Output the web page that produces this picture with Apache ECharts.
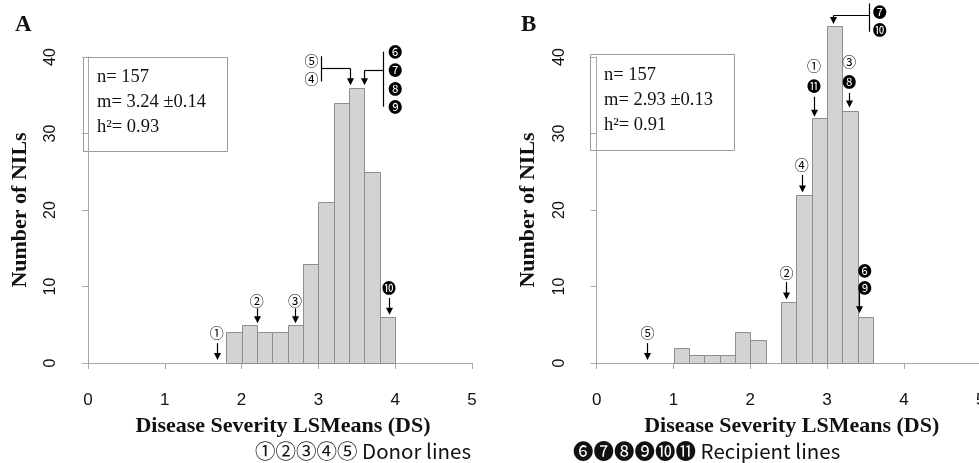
<!DOCTYPE html>
<html><head><meta charset="utf-8">
<script src="https://cdn.jsdelivr.net/npm/echarts@6/dist/echarts.min.js"></script>
<style>html,body{margin:0;padding:0;background:#fff}#c{width:979px;height:463px}</style>
</head><body><div id="c"></div>
<script>
// ---- data ----
const BIN_WIDTH = 0.2;
const binStartA = [1.8, 2.0, 2.2, 2.4, 2.6, 2.8, 3.0, 3.2, 3.4, 3.6, 3.8];
const countsA   = [4, 5, 4, 4, 5, 13, 21, 34, 36, 25, 6];
const binStartB = [1.0, 1.2, 1.4, 1.6, 1.8, 2.0, 2.2, 2.4, 2.6, 2.8, 3.0, 3.2, 3.4];
const countsB   = [2, 1, 1, 1, 4, 3, 0, 8, 22, 32, 44, 33, 6];
const xTicks = [0, 1, 2, 3, 4, 5];
const yTicks = [0, 10, 20, 30, 40];
const statsA = ['n= 157', 'm= 3.24 \u00b10.14', 'h\u00b2= 0.93'];
const statsB = ['n= 157', 'm= 2.93 \u00b10.13', 'h\u00b2= 0.91'];
// simple arrows: x, arrow start y0, arrow tip y1, labels with their y
const arrowsA = [
  {x: 1.675, y0: 2.6, y1: 0.4, labels: ['\u2460'], ly: [3.9]},
  {x: 2.197, y0: 7.15, y1: 5.2, labels: ['\u2461'], ly: [8.2]},
  {x: 2.695, y0: 7.15, y1: 5.2, labels: ['\u2462'], ly: [8.2]},
  {x: 3.92, y0: 8.5, y1: 6.3, labels: ['\u277F'], ly: [9.8]}
];
const bracketsA = [
  {tipX: 3.41, tipY: 36.3, hY: 38.5, barX: 3.04, barY0: 40.1, barY1: 36.8, labelX: 2.91, labels: ['\u2464', '\u2463'], ly: [39.55, 37.1]},
  {tipX: 3.594, tipY: 36.3, hY: 38.3, barX: 3.845, barY0: 40.7, barY1: 33.5, labelX: 4.0, labels: ['\u277B', '\u277C', '\u277D', '\u277E'], ly: [40.7, 38.3, 35.9, 33.5]}
];
const arrowsB = [
  {x: 0.66, y0: 2.6, y1: 0.4, labels: ['\u2464'], ly: [4.0]},
  {x: 2.47, y0: 10.6, y1: 8.3, labels: ['\u2461'], ly: [11.8]},
  {x: 2.67, y0: 24.6, y1: 22.3, labels: ['\u2463'], ly: [25.9]},
  {x: 2.83, y0: 34.8, y1: 32.2, labels: ['\u2460', '\u24EB'], ly: [38.8, 36.3]},
  {x: 3.29, y0: 35.3, y1: 33.4, labels: ['\u2462', '\u277D'], ly: [39.4, 36.8]},
  {x: 3.42, y0: 9.5, y1: 6.5, lx: 3.49, labels: ['\u277B', '\u277E'], ly: [12.1, 9.8]}
];
const bracketsB = [
  {tipX: 3.08, tipY: 44.3, hY: 45.5, barX: 3.55, barY0: 47.0, barY1: 43.3, labelX: 3.685, labels: ['\u277C', '\u277F'], ly: [45.9, 43.6]}
];
const xName = 'Disease Severity LSMeans (DS)';
const yName = 'Number of NILs';
const donorText = '\u2460\u2461\u2462\u2463\u2464 Donor lines';
const recipText = '\u277B\u277C\u277D\u277E\u277F\u24EB Recipient lines';

// ---- rendering ----
const SERIF = '"Liberation Serif", "Times New Roman", serif';
const SANS = '"Liberation Sans", Arial, sans-serif';
const CJK = '"Noto Sans CJK KR", "Noto Sans CJK JP", "DejaVu Sans", sans-serif';
const AXC = '#a8a8a8';

function histItem(params, api) {
  const x0 = api.value(0), c = api.value(1);
  if (!c) return null;
  const p0 = api.coord([x0, 0]);
  const p1 = api.coord([x0 + BIN_WIDTH, c]);
  const l = Math.round(p0[0]) + 0.5, r = Math.round(p1[0]) + 0.5;
  const b = Math.round(p0[1]) + 0.5, t = Math.round(p1[1]) + 0.5;
  return {type: 'rect', shape: {x: l, y: t, width: r - l, height: b - t},
    style: {fill: '#d3d3d3', stroke: '#8e8e8e', lineWidth: 1}};
}
function arrowEls(children, s, t) {
  const x = Math.round(t[0]) + 0.5;
  children.push({type: 'line', shape: {x1: x, y1: s[1], x2: x, y2: t[1] - 5}, style: {stroke: '#000', lineWidth: 1.2}});
  children.push({type: 'polygon', shape: {points: [[x - 3.5, t[1] - 7], [x + 3.5, t[1] - 7], [x, t[1]]]}, style: {fill: '#000'}});
}
function labelEl(p, txt) {
  return {type: 'text', x: p[0], y: p[1], style: {text: txt, align: 'center', verticalAlign: 'middle', font: '14px ' + CJK, fill: '#000'}};
}
function arrowItem(list) {
  return function (params, api) {
    const a = list[params.dataIndex];
    const children = [];
    arrowEls(children, api.coord([a.x, a.y0]), api.coord([a.x, a.y1]));
    a.labels.forEach((lab, i) => children.push(labelEl(api.coord([a.lx != null ? a.lx : a.x, a.ly[i]]), lab)));
    return {type: 'group', children};
  };
}
function bracketItem(list) {
  return function (params, api) {
    const a = list[params.dataIndex];
    const children = [];
    const h0 = api.coord([a.barX, a.hY]), h1 = api.coord([a.tipX, a.hY]);
    const v0 = api.coord([a.barX, a.barY0]), v1 = api.coord([a.barX, a.barY1]);
    const hy = Math.round(h0[1]) + 0.5, vx = Math.round(v0[0]) + 0.5;
    children.push({type: 'line', shape: {x1: vx, y1: v0[1], x2: vx, y2: v1[1]}, style: {stroke: '#000', lineWidth: 1.2}});
    children.push({type: 'line', shape: {x1: vx, y1: hy, x2: Math.round(h1[0]) + 0.5, y2: hy}, style: {stroke: '#000', lineWidth: 1.2}});
    arrowEls(children, [h1[0], hy], api.coord([a.tipX, a.tipY]));
    a.labels.forEach((lab, i) => children.push(labelEl(api.coord([a.labelX, a.ly[i]]), lab)));
    return {type: 'group', children};
  };
}

function xAxisCfg(gi) {
  return {gridIndex: gi, type: 'value', min: xTicks[0], max: xTicks[xTicks.length - 1], interval: 1,
    offset: 14, splitLine: {show: false},
    axisLine: {show: true, lineStyle: {color: AXC, width: 1}},
    axisTick: {show: true, length: 6, lineStyle: {color: AXC}},
    axisLabel: {fontFamily: SANS, fontSize: 17, color: '#111', margin: 15},
    name: xName, nameLocation: 'middle', nameGap: 38,
    nameTextStyle: {fontFamily: SERIF, fontWeight: 'bold', fontSize: 22, color: '#111', padding: [0, 0, 0, 6]}};
}
function yAxisCfg(gi) {
  return {gridIndex: gi, type: 'value', min: yTicks[0], max: yTicks[yTicks.length - 1], interval: 10,
    offset: 15, splitLine: {show: false},
    axisLine: {show: true, lineStyle: {color: AXC, width: 1}},
    axisTick: {show: true, length: 6, lineStyle: {color: AXC}},
    axisLabel: {fontFamily: SANS, fontSize: 16, color: '#111', rotate: 90, margin: 14},
    name: yName, nameLocation: 'middle', nameGap: 42, nameRotate: 90,
    nameTextStyle: {fontFamily: SERIF, fontWeight: 'bold', fontSize: 22, color: '#111'}};
}
function statsGraphic(x, y, w, h, lines, ty) {
  const els = [{type: 'rect', shape: {x: x + 0.5, y: y + 0.5, width: w, height: h}, style: {fill: 'none', stroke: '#9a9a9a', lineWidth: 1}}];
  lines.forEach((t, i) => els.push({type: 'text', x: x + 14, y: ty[i], style: {text: t, font: '18.5px ' + SERIF, fill: '#111', verticalAlign: 'middle'}}));
  return els;
}

const chart = echarts.init(document.getElementById('c'));
chart.setOption({
  animation: false,
  backgroundColor: '#fff',
  grid: [
    {left: 88, top: 57, width: 384, height: 306, containLabel: false, outerBoundsMode: 'none'},
    {left: 596.7, top: 57, width: 384, height: 306, containLabel: false, outerBoundsMode: 'none'}
  ],
  xAxis: [xAxisCfg(0), xAxisCfg(1)],
  yAxis: [yAxisCfg(0), yAxisCfg(1)],
  series: [
    {type: 'custom', xAxisIndex: 0, yAxisIndex: 0, renderItem: histItem, data: binStartA.map((b, i) => [b, countsA[i]]), clip: false},
    {type: 'custom', xAxisIndex: 1, yAxisIndex: 1, renderItem: histItem, data: binStartB.map((b, i) => [b, countsB[i]]), clip: false},
    {type: 'custom', xAxisIndex: 0, yAxisIndex: 0, renderItem: arrowItem(arrowsA), data: arrowsA.map(a => [a.x, a.y1]), clip: false, z: 5},
    {type: 'custom', xAxisIndex: 0, yAxisIndex: 0, renderItem: bracketItem(bracketsA), data: bracketsA.map(a => [a.tipX, a.tipY]), clip: false, z: 5},
    {type: 'custom', xAxisIndex: 1, yAxisIndex: 1, renderItem: arrowItem(arrowsB), data: arrowsB.map(a => [a.x, a.y1]), clip: false, z: 5},
    {type: 'custom', xAxisIndex: 1, yAxisIndex: 1, renderItem: bracketItem(bracketsB), data: bracketsB.map(a => [a.tipX, a.tipY]), clip: false, z: 5}
  ],
  graphic: [
    {type: 'text', left: 15, top: 14, style: {text: 'A', font: 'bold 23px ' + SERIF, fill: '#111'}},
    {type: 'text', left: 521, top: 14, style: {text: 'B', font: 'bold 23px ' + SERIF, fill: '#111'}},
    ...statsGraphic(83, 57, 144, 94, statsA, [77, 102, 127]),
    ...statsGraphic(590, 54, 144, 96, statsB, [75, 100, 125]),
    {type: 'text', left: 255, top: 441, style: {text: donorText, font: '20.5px ' + CJK, fill: '#111'}},
    {type: 'text', left: 573, top: 441, style: {text: recipText, font: '20.5px ' + CJK, fill: '#111'}}
  ]
});
</script></body></html>
